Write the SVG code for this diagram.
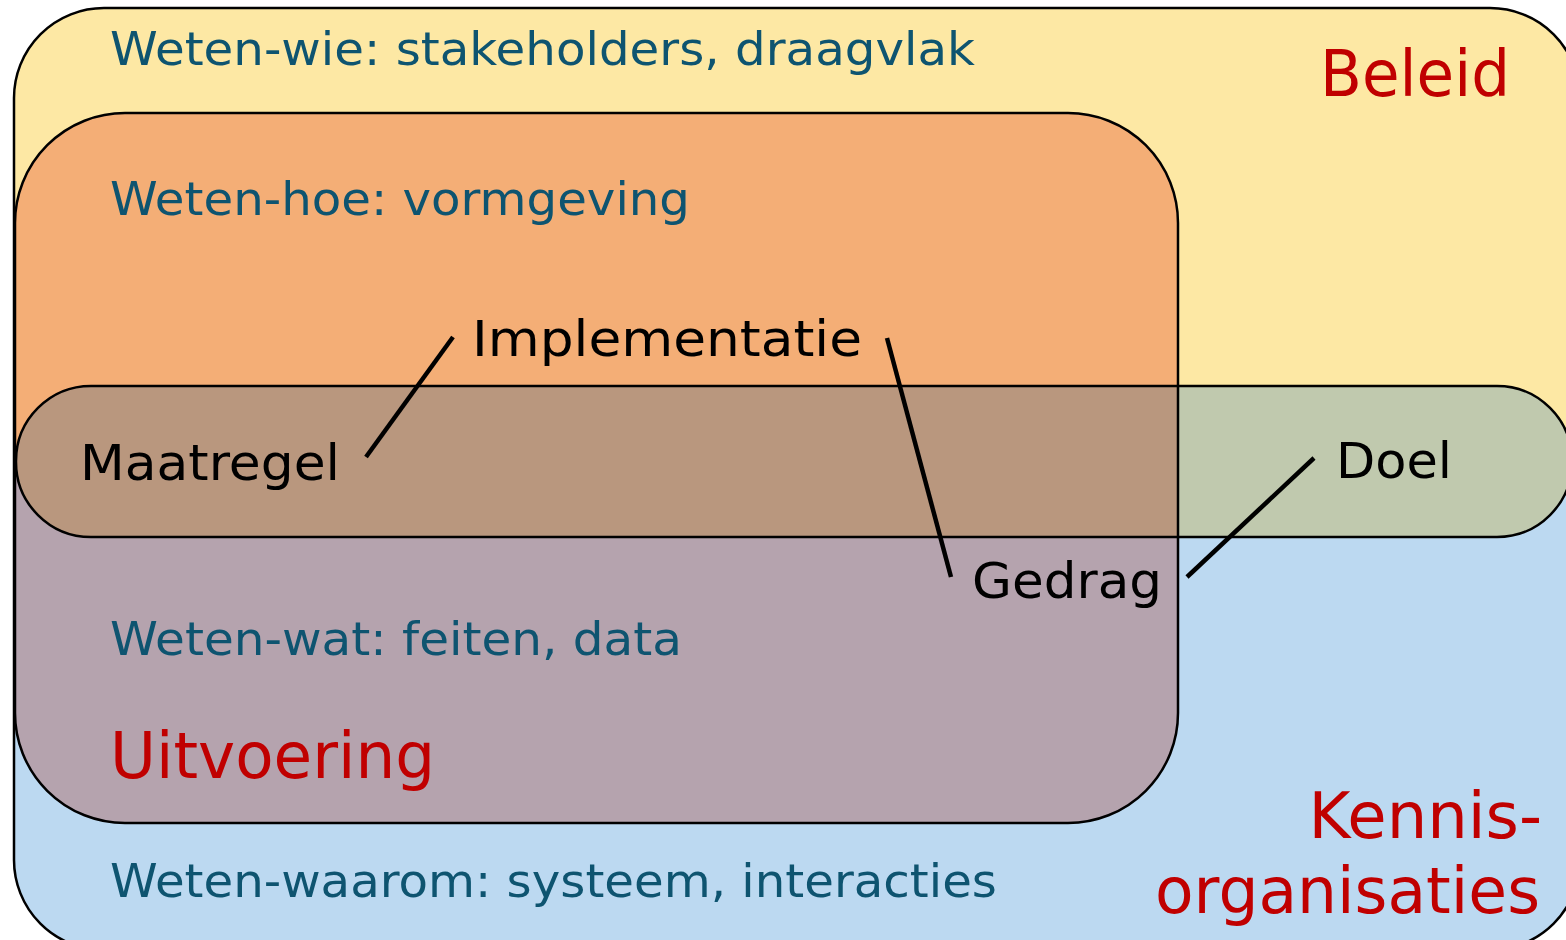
<svg xmlns="http://www.w3.org/2000/svg" width="1566" height="940" viewBox="0 0 1566 940">
  <defs>
    <linearGradient id="outerFill" x1="0" y1="0" x2="0" y2="940" gradientUnits="userSpaceOnUse">
      <stop offset="0" stop-color="#FDE8A4"/>
      <stop offset="0.49" stop-color="#FDE8A4"/>
      <stop offset="0.49" stop-color="#BCD9F1"/>
      <stop offset="1" stop-color="#BCD9F1"/>
    </linearGradient>
    <style>
      .shape { stroke: #000; stroke-width: 2.5; }
      .outline { stroke: #000; stroke-width: 2.5; fill: none; }
      .know { font-family: "DejaVu Sans", Verdana, sans-serif; font-size: 46px; fill: #0E5470; }
      .main { font-family: "DejaVu Sans", Verdana, sans-serif; font-size: 50px; fill: #000; }
      .domain { font-family: "DejaVu Sans", Verdana, sans-serif; font-size: 64px; fill: #C00000; }
      .conn { stroke: #000; stroke-width: 4.5; stroke-linecap: butt; fill: none; }
    </style>
  </defs>

  <rect x="0" y="0" width="1566" height="940" fill="#FFFFFF"/>

  <g id="outer">
    <rect class="shape" x="14" y="8" width="1566" height="942" rx="90" ry="90" fill="url(#outerFill)"/>
  </g>

  <g id="band">
    <rect x="16" y="386" width="1556" height="151" rx="75" ry="75" fill="#C0C9AE"/>
  </g>

  <g id="uitvoering">
    <rect x="15" y="113" width="1163" height="710" rx="110" ry="110" fill="#F6C0B8" style="mix-blend-mode: multiply"/>
    <rect class="outline" x="15" y="113" width="1163" height="710" rx="110" ry="110"/>
  </g>

  <g id="band-outline">
    <rect class="outline" x="16" y="386" width="1556" height="151" rx="75" ry="75"/>
  </g>

  <g id="labels-beleid">
    <text class="know" x="110" y="65" textLength="865" lengthAdjust="spacingAndGlyphs">Weten-wie: stakeholders, draagvlak</text>
    <text class="domain" x="1320" y="96" textLength="190" lengthAdjust="spacingAndGlyphs">Beleid</text>
  </g>
  <g id="labels-kennis">
    <text class="know" x="110" y="897" textLength="887" lengthAdjust="spacingAndGlyphs">Weten-waarom: systeem, interacties</text>
    <text class="domain" x="1542" y="838" text-anchor="end">Kennis-</text>
    <text class="domain" x="1155" y="913" textLength="385" lengthAdjust="spacingAndGlyphs">organisaties</text>
  </g>
  <g id="labels-uitvoering">
    <text class="know" x="110" y="215" textLength="580" lengthAdjust="spacingAndGlyphs">Weten-hoe: vormgeving</text>
    <text class="know" x="110" y="655" textLength="572" lengthAdjust="spacingAndGlyphs">Weten-wat: feiten, data</text>
    <text class="domain" x="110" y="778" textLength="325" lengthAdjust="spacingAndGlyphs">Uitvoering</text>
  </g>

  <g id="maatregel">
    <text class="main" x="80" y="480" textLength="260" lengthAdjust="spacingAndGlyphs">Maatregel</text>
  </g>
  <g id="implementatie">
    <text class="main" x="472" y="356" textLength="390" lengthAdjust="spacingAndGlyphs">Implementatie</text>
  </g>
  <g id="gedrag">
    <text class="main" x="972" y="598" textLength="190" lengthAdjust="spacingAndGlyphs">Gedrag</text>
  </g>
  <g id="doel">
    <text class="main" x="1336" y="478" textLength="116" lengthAdjust="spacingAndGlyphs">Doel</text>
  </g>

  <g id="connectors">
    <line class="conn" x1="366" y1="457" x2="453" y2="337"/>
    <line class="conn" x1="887" y1="338" x2="951" y2="577"/>
    <line class="conn" x1="1187" y1="577" x2="1314" y2="458"/>
  </g>
</svg>
